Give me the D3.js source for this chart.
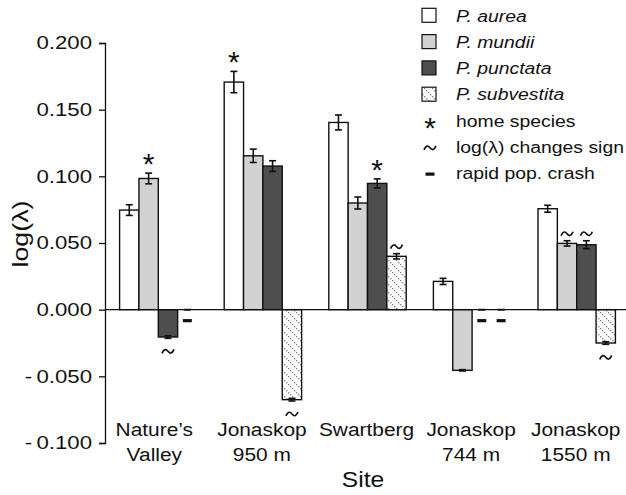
<!DOCTYPE html>
<html>
<head>
<meta charset="utf-8">
<script src="https://cdn.jsdelivr.net/npm/d3@7"></script>
<style>
  body { margin: 0; background: #fff; }
  text { font-family: "Liberation Sans", Arial, sans-serif; fill: #111; }
</style>
</head>
<body>
<div id="chart"></div>
<script>
// sites (two label lines each)
let sites = ["Nature’s Valley", "Jonaskop 950 m", "Swartberg", "Jonaskop 744 m", "Jonaskop 1550 m"];
let siteLines = [["Nature’s", "Valley"], ["Jonaskop", "950 m"], ["Swartberg"], ["Jonaskop", "744 m"], ["Jonaskop", "1550 m"]];
let species = ["P. aurea", "P. mundii", "P. punctata", "P. subvestita"];

// log(lambda) per site, one array per species
let aurea = [0.0747, 0.1707, 0.1404, 0.0212, 0.0757];
let mundii = [0.0984, 0.1154, 0.0800, -0.0455, 0.0497];
let punctata = [-0.0205, 0.1077, 0.0947, 0.0, 0.0487];
let subvestita = [0.0, -0.0675, 0.0400, 0.0, -0.0250];

// error (half-width)
let aureaErr = [0.0040, 0.0080, 0.0056, 0.0023, 0.0026];
let mundiiErr = [0.0040, 0.0050, 0.0045, 0.0005, 0.0020];
let punctataErr = [0.0010, 0.0040, 0.0034, 0.0, 0.0030];
let subvestitaErr = [0.0, 0.0010, 0.0020, 0.0, 0.0010];

// markers: [site index, species index]
let homeSpecies = [[0, 1], [1, 0], [2, 2]];
let signChanges = [[0, 2], [1, 3], [2, 3], [4, 1], [4, 2], [4, 3]];
let popCrash = [[0, 3], [3, 2], [3, 3]];

let yTicks = [-0.1, -0.05, 0, 0.05, 0.1, 0.15, 0.2];
let yTickLabels = ["-\u20090.100", "-\u20090.050", "0.000", "0.050", "0.100", "0.150", "0.200"];

let width = 626, height = 495;
let SX = 1.12; // wide type in the original

let values = [aurea, mundii, punctata, subvestita];
let errors = [aureaErr, mundiiErr, punctataErr, subvestitaErr];
let fills = ["#ffffff", "#d2d2d2", "#4e4e4e", "url(#hatch)"];

let svg = d3.select("#chart").append("svg")
    .attr("width", width)
    .attr("height", height);

let defs = svg.append("defs");
let pat = defs.append("pattern")
    .attr("id", "hatch")
    .attr("width", 8).attr("height", 8)
    .attr("patternUnits", "userSpaceOnUse");
pat.append("rect").attr("width", 8).attr("height", 8).attr("fill", "#fff");
[0, 2, 4, 6].forEach(function(k){
    pat.append("rect").attr("x", k).attr("y", k).attr("width", 1.4).attr("height", 1.4).attr("fill", "#8a8a8a");
});

function addText(parent, x, y, str, size, anchor, extra, sx){
    let tr = `translate(${x},${y})` + (extra || "") + ` scale(${sx || SX},1)`;
    return parent.append("g").attr("transform", tr)
        .append("text")
        .attr("text-anchor", anchor || "start")
        .style("font-size", size + "px")
        .text(str);
}

let x0 = d3.scaleBand().domain(sites).range([106, 629]).paddingInner(0.26).paddingOuter(0.13);
let x1 = d3.scaleBand().domain(species).range([0, x0.bandwidth()]);
let y = d3.scaleLinear().domain([-0.1, 0.2]).range([443, 43]);

// y axis
let tickSX = 1.2;
let yAxis = d3.axisLeft(y).tickValues(yTicks)
    .tickFormat(function(d, i){ return yTickLabels[i]; })
    .tickSize(6).tickSizeOuter(6);
let gy = svg.append("g").attr("transform", "translate(105,0)").call(yAxis);
gy.select(".domain").attr("stroke", "#111").attr("stroke-width", 1.3);
gy.selectAll(".tick line").attr("stroke", "#111").attr("stroke-width", 1.3);
gy.selectAll(".tick text")
    .attr("x", -13 / tickSX)
    .attr("transform", `scale(${tickSX},1)`)
    .style("font-size", "18.5px")
    .style("font-family", "Liberation Sans, Arial, sans-serif")
    .attr("fill", "#111");

// bars
let bars = [];
sites.forEach(function(s, i){
    species.forEach(function(sp, j){
        bars.push({site: s, sp: sp, i: i, j: j, v: values[j][i], e: errors[j][i]});
    });
});

function bx(d){ return x0(d.site) + x1(d.sp); }
function bcx(i, j){ return x0(sites[i]) + x1(species[j]) + x1.bandwidth() / 2; }

svg.append("g").selectAll("rect").data(bars).enter()
    .append("rect")
    .attr("x", bx)
    .attr("width", x1.bandwidth())
    .attr("y", function(d){ return y(Math.max(0, d.v)); })
    .attr("height", function(d){ return Math.abs(y(d.v) - y(0)); })
    .attr("fill", function(d){ return fills[d.j]; })
    .attr("stroke", "#111")
    .attr("stroke-width", 1.4);

// zero line
svg.append("line")
    .attr("x1", 105).attr("x2", width)
    .attr("y1", y(0)).attr("y2", y(0))
    .attr("stroke", "#111").attr("stroke-width", 1.3);

// error bars
let eg = svg.append("g").attr("stroke", "#111").attr("stroke-width", 1.6);
bars.forEach(function(d){
    let cx = bcx(d.i, d.j);
    let lo = y(d.v - d.e), hi = y(d.v + d.e);
    eg.append("line").attr("x1", cx).attr("x2", cx).attr("y1", lo).attr("y2", hi);
    eg.append("line").attr("x1", cx - 3.5).attr("x2", cx + 3.5).attr("y1", lo).attr("y2", lo);
    eg.append("line").attr("x1", cx - 3.5).attr("x2", cx + 3.5).attr("y1", hi).attr("y2", hi);
});

// markers
let tildePath = "M-6,2 C-4,-2.6 -2,-2.6 0,0 S4,2.6 6,-2";

function star(cx, cy){
    svg.append("text").attr("x", cx).attr("y", cy + 17)
        .attr("text-anchor", "middle")
        .style("font-size", "30px")
        .text("*");
}
function tilde(cx, cy){
    svg.append("path").attr("d", tildePath)
        .attr("transform", `translate(${cx},${cy})`)
        .attr("fill", "none").attr("stroke", "#111").attr("stroke-width", 1.7);
}
function dash(cx, cy){
    svg.append("rect").attr("x", cx - 4.5).attr("y", cy - 1.6)
        .attr("width", 9).attr("height", 3.2).attr("fill", "#111");
}

homeSpecies.forEach(function(m){
    let v = values[m[1]][m[0]], e = errors[m[1]][m[0]];
    star(bcx(m[0], m[1]), y(v + e) - 16);
});
signChanges.forEach(function(m){
    let v = values[m[1]][m[0]], e = errors[m[1]][m[0]];
    if (v >= 0) tilde(bcx(m[0], m[1]), y(v + e) - 7);
    else tilde(bcx(m[0], m[1]), y(v - e) + 13);
});
popCrash.forEach(function(m){
    dash(bcx(m[0], m[1]), y(0) + 11);
});

// x labels
siteLines.forEach(function(lines, i){
    let cx = x0(sites[i]) + x0.bandwidth() / 2 - (i === 0 ? 4 : 1);
    lines.forEach(function(t, k){
        addText(svg, cx, 435.5 + k * 25, t, 19, "middle", "", 1.1);
    });
});

addText(svg, 363, 487, "Site", 22, "middle");
addText(svg, 28, 234, "log(λ)", 22, "middle", " rotate(-90)", 1.22);

// legend
let lg = svg.append("g");
let rowH = 26.3, legTop = 15.3;
species.forEach(function(sp, j){
    let cy = legTop + j * rowH;
    lg.append("rect").attr("x", 422).attr("y", cy - 7).attr("width", 14).attr("height", 14)
        .attr("fill", fills[j]).attr("stroke", "#111").attr("stroke-width", 1.2);
    addText(lg, 456, cy + 6.2, sp, 17.3, "start").style("font-style", "italic");
});
let symLabels = ["home species", "log(λ) changes sign", "rapid pop. crash"];
symLabels.forEach(function(t, k){
    let cy = legTop + (k + 4) * rowH;
    addText(lg, 456, cy + 6.2, t, 17.3, "start");
});
star(430, legTop + 4 * rowH);
tilde(430, legTop + 5 * rowH + 1);
dash(430, legTop + 6 * rowH + 1);
</script>
</body>
</html>
